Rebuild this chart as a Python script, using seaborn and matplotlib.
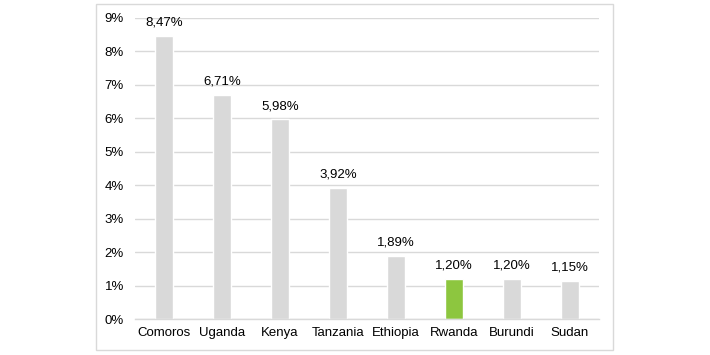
import matplotlib
matplotlib.use("Agg")
import matplotlib.pyplot as plt
from matplotlib.patches import Rectangle
import seaborn as sns
import pandas as pd

countries = ["Comoros", "Uganda", "Kenya", "Tanzania", "Ethiopia", "Rwanda", "Burundi", "Sudan"]
values = [8.47, 6.71, 5.98, 3.92, 1.89, 1.20, 1.20, 1.15]
highlight = "Rwanda"
yticks = [0, 1, 2, 3, 4, 5, 6, 7, 8, 9]

sns.set_theme(style="white")
plt.rcParams['font.family'] = ['Liberation Sans', 'DejaVu Sans']

df = pd.DataFrame({"country": countries, "value": values})
grey = "#d9d9d9"
green = "#8dc63f"
palette = {c: (green if c == highlight else grey) for c in countries}

fig = plt.figure(figsize=(7.1, 3.55), dpi=100)
fig.patches.append(Rectangle((96/710, 1-350/355), 517/710, 346/355, transform=fig.transFigure,
                             fill=False, edgecolor=grey, linewidth=1.0))
ax = fig.add_axes([135/710, 1-319/355, 464/710, 301/355])

sns.barplot(data=df, x="country", y="value", hue="country", palette=palette,
            width=0.3, legend=False, ax=ax, saturation=1)

ax.set_ylim(0, 9)
ax.set_xlim(-0.5, len(countries) - 0.5)
ax.set_yticks(yticks)
ax.set_yticklabels([f"{t}%" for t in yticks])
ax.yaxis.grid(True, color=grey, linewidth=1.0)
ax.set_axisbelow(True)
for s in ["top", "right", "left"]:
    ax.spines[s].set_visible(False)
ax.spines["bottom"].set_color(grey)
ax.spines["bottom"].set_linewidth(1.0)
ax.tick_params(axis="both", length=0, labelsize=9.5, colors="#000000", pad=6)
ax.tick_params(axis="y", pad=8)
ax.set_xlabel("")
ax.set_ylabel("")

for i, v in enumerate(values):
    ax.annotate(f"{v:.2f}%".replace(".", ","), (i, v), xytext=(0, 5), textcoords="offset points",
                ha="center", va="bottom", fontsize=9.5, color="#000000")

fig.savefig("out.png", dpi=100)
